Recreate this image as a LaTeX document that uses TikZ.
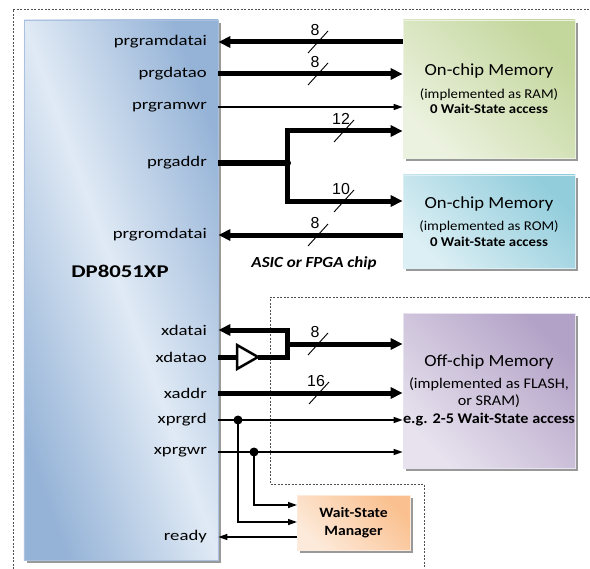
\documentclass[tikz,border=0pt]{standalone}
\usepackage{fontspec}
\setmainfont[FakeStretch=1.1]{Carlito}
\newfontfamily\lblfont[FakeStretch=1.27]{Carlito}
\newfontfamily\numfont{Liberation Sans}
\usetikzlibrary{arrows.meta,shadows}
\definecolor{chipdark}{RGB}{149,179,215}
\definecolor{chiplight}{RGB}{224,234,245}
\definecolor{ramdark}{RGB}{195,214,155}
\definecolor{ramlight}{RGB}{236,242,224}
\definecolor{romdark}{RGB}{146,205,220}
\definecolor{romlight}{RGB}{220,239,244}
\definecolor{offdark}{RGB}{179,162,199}
\definecolor{offlight}{RGB}{231,226,238}
\definecolor{wsmdark}{RGB}{250,192,143}
\definecolor{wsmlight}{RGB}{253,234,218}
\definecolor{dashgray}{RGB}{80,80,80}
\newcommand\busmark[4]{%
  \draw[slash] (#2-10,#3+11) -- (#2+10,#3-11);
  \node[numlbl] (#1) at (#2-3,#3-12) {#4};}
\tikzset{
  bus/.style={line width=5bp, line join=miter},
  sig/.style={line width=1.3bp},
  busend/.style={-{Triangle[length=12bp,width=11bp]}},
  busstart/.style={{Triangle[length=12bp,width=11bp]}-},
  busboth/.style={{Triangle[length=12bp,width=11bp]}-{Triangle[length=12bp,width=11bp]}},
  sigend/.style={-{Triangle[length=9bp,width=6bp]}},
  slash/.style={line width=0.9bp},
  numlbl/.style={inner sep=0pt, font=\numfont\fontsize{16}{16}\selectfont},
  lbl/.style={inner sep=0pt, anchor=east, font=\lblfont\fontsize{14.8}{14.8}\selectfont},
  border/.style={draw=dashgray, line width=0.7bp, dash pattern=on 2bp off 1.5bp},
  shad/.style={drop shadow={shadow xshift=3bp, shadow yshift=-3bp, fill=black!40, opacity=1}},
  box/.style n args={2}{rectangle, inner sep=0pt, shad, draw=#2, line width=0.7bp,
     top color=#1, bottom color=#2, shading angle=-45, align=center},
}
\begin{document}
\begin{tikzpicture}[x=1bp,y=-1bp]
\useasboundingbox (0,0) rectangle (590,569);
% dashed borders
\draw[border] (13,569) -- (13,9) -- (590,9);
\draw[border] (590,297) -- (270,297) -- (270,484) -- (424,484) -- (424,569);
% chip
\node[rectangle, inner sep=0pt, shad, draw=chipdark!80!white, line width=0.7bp,
  top color=chipdark, bottom color=chipdark, middle color=chiplight, shading angle=-70,
  minimum width=194bp, minimum height=540bp] (chip) at (121,290) {};
\node[inner sep=0pt, font=\lblfont\bfseries\fontsize{18}{18}\selectfont] (dp) at (120,271) {DP8051XP};
% labels
\node[lbl] (Lrd) at (207,42) {prgramdatai};
\node[lbl] (Ldo) at (207,74) {prgdatao};
\node[lbl] (Lwr) at (207,107) {prgramwr};
\node[lbl] (Lad) at (207,163) {prgaddr};
\node[lbl] (Lrom) at (207,235) {prgromdatai};
\node[lbl] (Lxdi) at (207,330) {xdatai};
\node[lbl] (Lxdo) at (207,357) {xdatao};
\node[lbl] (Lxa) at (207,393) {xaddr};
\node[lbl] (Lxrd) at (207,420) {xprgrd};
\node[lbl] (Lxwr) at (207,452) {xprgwr};
\node[lbl] (Lrdy) at (207,537) {ready};
% memories
\node[box={ramdark}{ramlight}, minimum width=172bp, minimum height=138bp,
  font=\fontsize{13.5}{15.5}\selectfont] (ram) at (489,89)
  {{\fontsize{17}{17}\selectfont On-chip Memory}\\[7pt](implemented as RAM)\\\textbf{0 Wait-State access}};
\node[box={romdark}{romlight}, minimum width=172bp, minimum height=93bp,
  font=\fontsize{13.5}{15.5}\selectfont] (rom) at (489,221.5)
  {{\fontsize{17}{17}\selectfont On-chip Memory}\\[7pt](implemented as ROM)\\\textbf{0 Wait-State access}};
\node[box={offdark}{offlight}, minimum width=172bp, minimum height=155bp,
  font=\fontsize{14.8}{17.5}\selectfont] (off) at (489,390.5)
  {{\fontsize{17}{17}\selectfont Off-chip Memory}\\[4pt](implemented as FLASH,\\or SRAM)\\\textbf{e.g. 2-5 Wait-State access}};
\node[box={wsmdark}{wsmlight}, minimum width=113bp, minimum height=55bp,
  font=\bfseries\fontsize{14.3}{18}\selectfont] (wsm) at (353.5,522.5) {Wait-State\\Manager};
\node[inner sep=0pt, font=\bfseries\itshape\fontsize{15.5}{15.5}\selectfont] (asic) at (314,263) {ASIC or FPGA chip};
% coordinates
\coordinate (ja) at (287,131);
\coordinate (jm) at (287,163);
\coordinate (jb) at (287,201);
\coordinate (xt) at (287,330);
\coordinate (xm) at (287,344);
\coordinate (xb) at (287,357);
\coordinate (bin) at (237,357);
\coordinate (bout) at (258,357);
\coordinate (d1) at (238,420);
\coordinate (d2) at (254,452);
\coordinate (w1) at (297,522);
\coordinate (w2) at (297,505);
% on-chip buses
\draw[bus, busend] (ram.west |- Lrd) -- (chip.east |- Lrd);
\draw[bus, busend] (chip.east |- Ldo) -- (ram.west |- Ldo);
\draw[sig, sigend] (chip.east |- Lwr) -- (ram.west |- Lwr);
\draw[bus] (chip.east |- jm) -- (jm);
\draw[bus, busboth] (ram.west |- ja) -- (ja) -- (jb) -- (rom.west |- jb);
\fill (jm) circle (4);
\draw[bus, busend] (rom.west |- Lrom) -- (chip.east |- Lrom);
% off-chip data
\draw[bus, busstart] (chip.east |- xt) -- (xt) -- (xb) -- (bout);
\draw[bus] (chip.east |- bin) -- (bin);
\draw[line width=2.5bp, fill=white, line join=miter] (237,345) -- (bout) -- (237,369) -- cycle;
\draw[bus, busend] (xm) -- (off.west |- xm);
\draw[bus, busend] (chip.east |- Lxa) -- (off.west |- Lxa);
\draw[sig, sigend] (chip.east |- d1) -- (off.west |- d1);
\draw[sig, sigend] (chip.east |- d2) -- (off.west |- d2);
\fill (d1) circle (4.5);
\fill (d2) circle (4.5);
\draw[sig, sigend] (d1) |- (w1);
\draw[sig, sigend] (d2) |- (w2);
\draw[sig, sigend] (wsm.west |- Lrdy) -- (chip.east |- Lrdy);
% bus widths
\busmark{n1}{318}{42}{8}
\busmark{n2}{318}{74}{8}
\busmark{n3}{344}{131}{12}
\busmark{n4}{344}{201}{10}
\busmark{n5}{318}{235}{8}
\busmark{n6}{318}{344}{8}
\busmark{n7}{319}{393}{16}
\end{tikzpicture}
\end{document}
